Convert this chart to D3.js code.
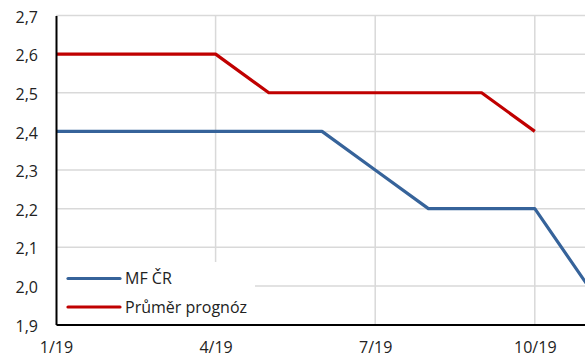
<!DOCTYPE html>
<html>
<head>
<meta charset="utf-8">
<script src="https://cdn.jsdelivr.net/npm/d3@7/dist/d3.min.js"></script>
<style>
  html, body { margin: 0; padding: 0; background: #ffffff; }
  svg { display: block; font-family: "Open Sans", "Noto Sans", sans-serif; }
</style>
</head>
<body>
<svg id="chart" width="585" height="358"></svg>
<script>
// Months of 2019 (index 0 = January)
const months = ["1/19", "2/19", "3/19", "4/19", "5/19", "6/19", "7/19", "8/19", "9/19", "10/19", "11/19", "12/19"];
const tickMonths = [0, 3, 6, 9];
const yTicks = [1.9, 2.0, 2.1, 2.2, 2.3, 2.4, 2.5, 2.6, 2.7];

// Series values by month
const mfCR = [2.4, 2.4, 2.4, 2.4, 2.4, 2.4, 2.3, 2.2, 2.2, 2.2, 2.0];
const prumerPrognoz = [2.6, 2.6, 2.6, 2.6, 2.5, 2.5, 2.5, 2.5, 2.5, 2.4];

const seriesNames = ["MF ČR", "Průměr prognóz"];
const seriesColors = ["#36639a", "#c00000"];

const svg = d3.select("#chart");

const plotLeft = 56, plotTop = 15.5, plotBottom = 324.5, monthStep = 53.2;
const x = d3.scaleLinear().domain([0, 12]).range([plotLeft, plotLeft + 12 * monthStep]);
const y = d3.scaleLinear().domain([1.9, 2.7]).range([plotBottom, plotTop]);

const fmt = v => d3.format(".1f")(v).replace(".", ",");

// Gridlines
const grid = svg.append("g").attr("stroke", "#d9d9d9").attr("stroke-width", 1.5);
grid.selectAll("line.h").data(yTicks.filter(v => v > 1.9)).join("line")
  .attr("x1", plotLeft).attr("x2", 585)
  .attr("y1", d => y(d)).attr("y2", d => y(d));
grid.selectAll("line.v").data(tickMonths.filter(m => m > 0).concat([12])).join("line")
  .attr("x1", d => x(d)).attr("x2", d => x(d))
  .attr("y1", plotTop).attr("y2", plotBottom);

// Series lines
const line = d3.line().x((d, i) => x(i)).y(d => y(d));
[mfCR, prumerPrognoz].forEach((data, k) => {
  svg.append("path")
    .datum(data)
    .attr("fill", "none")
    .attr("stroke", seriesColors[k])
    .attr("stroke-width", 3.2)
    .attr("stroke-linejoin", "round")
    .attr("d", line);
});

// Legend panel (white, covering the gridlines behind it)
const legend = svg.append("g");
legend.append("rect")
  .attr("x", plotLeft + 1).attr("y", 262)
  .attr("width", 198).attr("height", plotBottom - 262)
  .attr("fill", "#ffffff");
seriesNames.forEach((name, k) => {
  const ly = 278.5 + k * 28.5;
  legend.append("line")
    .attr("x1", 68).attr("x2", 120)
    .attr("y1", ly).attr("y2", ly)
    .attr("stroke", seriesColors[k])
    .attr("stroke-width", 3.2)
    .attr("stroke-linecap", "round");
  legend.append("text")
    .attr("x", 125).attr("y", ly + 5.5)
    .attr("font-size", 16)
    .attr("fill", "#222")
    .text(name);
});

// Y axis
const yAxis = svg.append("g")
  .attr("transform", `translate(${plotLeft},0)`)
  .call(d3.axisLeft(y).tickValues(yTicks).tickFormat(fmt).tickSize(0).tickPadding(18));
yAxis.select(".domain").attr("stroke", "#000").attr("stroke-width", 2);
yAxis.selectAll("text").attr("font-size", 16).attr("fill", "#222")
  .attr("font-family", "Open Sans, sans-serif").attr("dy", "0.42em");

// X axis
const xAxis = svg.append("g")
  .attr("transform", `translate(0,${plotBottom})`)
  .call(d3.axisBottom(x).tickValues(tickMonths).tickFormat(i => months[i]).tickSize(0).tickPadding(17.5));
xAxis.select(".domain").attr("stroke", "#000").attr("stroke-width", 2);
xAxis.selectAll("text").attr("font-size", 16).attr("fill", "#222")
  .attr("font-family", "Open Sans, sans-serif");
</script>
</body>
</html>
